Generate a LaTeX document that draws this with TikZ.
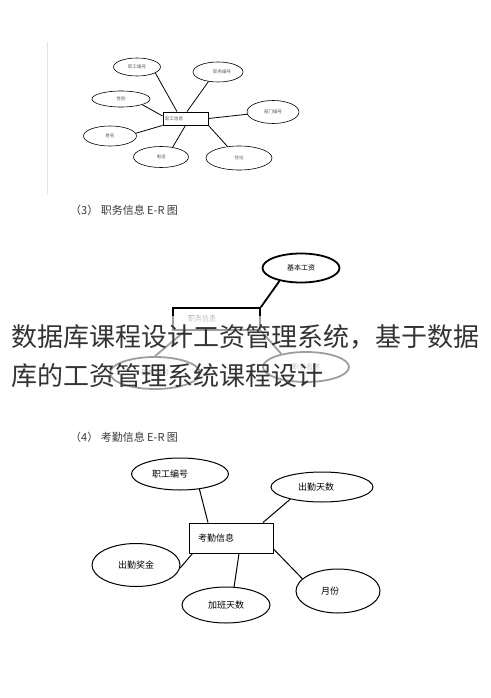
\documentclass[tikz,border=0pt]{standalone}
\usepackage{fontspec}
\setmainfont{Noto Sans CJK SC}
\usetikzlibrary{shapes.geometric}
\definecolor{overlaytext}{HTML}{333333}
\definecolor{captext}{HTML}{3A3A3A}
\definecolor{smalltext}{HTML}{555555}
\definecolor{faintline}{HTML}{E4E4E4}
\newcommand{\shiftlbl}[2]{\makebox[0pt]{\hspace*{#1}\hspace*{#1}#2}}
\begin{document}
\begin{tikzpicture}[x=1pt,y=-1pt,
 tell/.style={ellipse,draw,line width=0.6pt,inner sep=0pt,font=\fontsize{4.5}{5}\selectfont,text=smalltext},
 tbox/.style={rectangle,draw,line width=0.8pt,inner sep=0pt,font=\fontsize{4.5}{5}\selectfont,text=smalltext},
 tline/.style={line width=0.8pt},
 mell/.style={ellipse,draw,line width=1.8pt,inner sep=0pt,font=\fontsize{7}{8}\selectfont},
 mbox/.style={rectangle,draw,line width=1.8pt,inner sep=0pt,font=\fontsize{7}{8}\selectfont},
 mline/.style={line width=1.8pt},
 bell/.style={ellipse,draw,line width=1pt,inner sep=0pt,font=\fontsize{9}{10}\selectfont},
 bbox/.style={rectangle,draw,line width=1pt,inner sep=0pt,font=\fontsize{9}{10}\selectfont},
 bline/.style={line width=1pt},
 captionlbl/.style={anchor=base west,inner sep=0pt,font=\fontsize{11}{12}\selectfont,text=captext},
 bigtext/.style={anchor=base west,inner sep=0pt,font=\fontsize{26}{30}\selectfont,text=overlaytext},
]
\fill[white] (0,0) rectangle (490,698);
\useasboundingbox (0,0) rectangle (490,698);

% faint left border line of the top picture
\coordinate (fa) at (47,42);
\coordinate (fb) at (47,195);
\draw[faintline,line width=0.8pt] (fa) -- (fb);

% ---------- top diagram ----------
\node[tbox,minimum width=45pt,minimum height=13pt,text width=41pt,align=left] (tb) at (185.5,118.5) {职工信息};
\node[tell,minimum width=47pt,minimum height=18pt] (t1) at (137,67) {职工编号};
\node[tell,minimum width=50pt,minimum height=20pt] (t2) at (218,72) {\shiftlbl{4pt}{职务编号}};
\node[tell,minimum width=58pt,minimum height=16pt] (t3) at (121,99) {性别};
\node[tell,minimum width=52pt,minimum height=23pt] (t4) at (273,112) {部门编号};
\node[tell,minimum width=53pt,minimum height=20pt] (t5) at (110,136) {姓名};
\node[tell,minimum width=55pt,minimum height=21pt] (t6) at (161,157) {电话};
\node[tell,minimum width=66pt,minimum height=24pt] (t7) at (239,158) {住址};
\draw[tline] (t1.-18) -- ([xshift=-8.5pt]tb.north);
\draw[tline] (t2.-135) -- ([xshift=1.5pt]tb.north);
\draw[tline] (t3.-15) -- ([yshift=2.5pt]tb.west);
\draw[tline] (t4.185) -- (tb.east);
\draw[tline] (t5.6) -- (tb.south west);
\draw[tline] (t6.40) -- (tb.south);
\draw[tline] (t7.135) -- (tb.south east);

\node[captionlbl] (cap3) at (70,214) {（3） 职务信息 E-R 图};

% ---------- middle diagram ----------
\node[mbox,minimum width=87pt,minimum height=22pt,text width=57pt,align=left,text=black!60] (mb) at (216.5,319) {职务信息};
\node[mell,minimum width=77pt,minimum height=29pt] (mk) at (301,268) {基本工资};
\node[mell,minimum width=86pt,minimum height=30pt,text=black!60] (mr) at (306,367) {职务名称};
\node[mell,minimum width=90pt,minimum height=32pt,text=black!60] (ml) at (155,373) {职务编号};
\draw[mline] (mb.north east) -- (mk.-149);
\draw[mline] ([xshift=-31.5pt]mb.south) -- (ml.north);
\draw[mline] (mb.south east) -- (mr.152);

% translucent band under the overlay title
\fill[white,opacity=0.62] (0,316) rectangle (490,395);
\node[bigtext] (big1) at (11,346.5) {数据库课程设计工资管理系统，基于数据};
\node[bigtext] (big2) at (11,385.5) {库的工资管理系统课程设计};

\node[captionlbl] (cap4) at (70,441) {（4） 考勤信息 E-R 图};

% ---------- bottom diagram ----------
\node[bbox,minimum width=84pt,minimum height=30pt,text width=66pt,align=left] (bb) at (231,538) {考勤信息};
\node[bell,minimum width=97pt,minimum height=32pt] (b1) at (180,474) {\shiftlbl{-10pt}{职工编号}};
\node[bell,minimum width=102pt,minimum height=30pt] (b2) at (322,487) {\shiftlbl{-6pt}{出勤天数}};
\node[bell,minimum width=88pt,minimum height=43pt] (b3) at (136,565) {出勤奖金};
\node[bell,minimum width=88pt,minimum height=36pt] (b4) at (226,605) {加班天数};
\node[bell,minimum width=84pt,minimum height=44pt] (b5) at (338,591) {\shiftlbl{-8pt}{月份}};
\draw[bline] (b1.-38) -- ([xshift=-23pt]bb.north);
\draw[bline] (b2.-159) -- ([xshift=32pt]bb.north);
\draw[bline] (b3.-4) -- ([xshift=4pt]bb.south west);
\draw[bline] (b4.66) -- ([xshift=8pt]bb.south);
\draw[bline] (b5.161) -- ([yshift=-11pt]bb.east);
\end{tikzpicture}
\end{document}
